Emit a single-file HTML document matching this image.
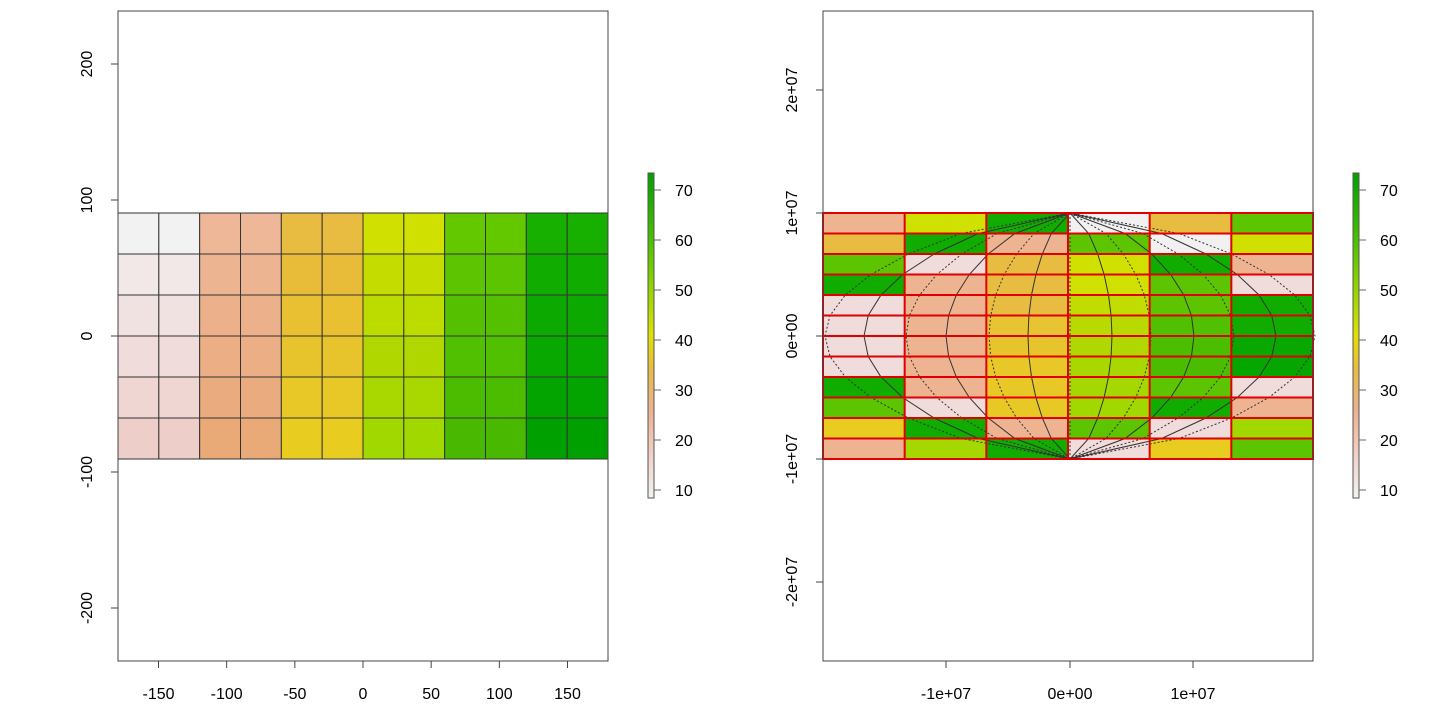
<!DOCTYPE html>
<html><head><meta charset="utf-8"><style>
html,body{margin:0;padding:0;background:#fff;}
svg{display:block;font-family:"Liberation Sans",Arial,sans-serif;}
</style></head><body>
<svg id="s" width="1433" height="716" xmlns="http://www.w3.org/2000/svg">
<defs>
<linearGradient id="cb" x1="0" y1="1" x2="0" y2="0">
<stop offset="0" stop-color="#f2f2f2"/>
<stop offset="0.12" stop-color="#f0d4cc"/>
<stop offset="0.27" stop-color="#eeb090"/>
<stop offset="0.4" stop-color="#e8bc40"/>
<stop offset="0.5" stop-color="#e0e000"/>
<stop offset="0.65" stop-color="#90d400"/>
<stop offset="0.82" stop-color="#40bc00"/>
<stop offset="1" stop-color="#00a000"/>
</linearGradient>
</defs>
<g id="g"></g>
</svg>
<script>
var g=document.getElementById('g'),h='';
function R(x,y,w,hh,f,s,sw){h+='<rect x="'+x+'" y="'+y+'" width="'+w+'" height="'+hh+'" fill="'+f+'" stroke="'+(s||'none')+'" stroke-width="'+(sw||1)+'"/>';}
function L(x1,y1,x2,y2,s,d,w){h+='<line x1="'+x1+'" y1="'+y1+'" x2="'+x2+'" y2="'+y2+'" stroke="'+(s||'#333')+'" stroke-width="'+(w||1)+'"'+(d?' stroke-dasharray="2,2"':'')+'/>';}
function T(x,y,t,rot,anc){h+='<text x="'+x+'" y="'+y+'" font-size="16" text-anchor="'+(anc||'middle')+'"'+(rot?' transform="rotate(-90 '+x+' '+y+')"':'')+'>'+t+'</text>';}
var pal=[
['#f2f2f2','#f2e8e8','#f0e2e0','#f0dcda','#f0d6d2','#eecec8'],
['#eeb898','#ecb490','#ecb08a','#ecae84','#eaac7e','#eaaa78'],
['#e8bc40','#e8bc38','#e8c032','#e8c42c','#e8c826','#e8cc20'],
['#d0e000','#c4dc00','#bcdc00','#b0d800','#a8d800','#a0d800'],
['#64c800','#5cc400','#54c000','#50c000','#4cbc00','#48b800'],
['#18b000','#10ac00','#0caa00','#08a800','#04a400','#00a000']];
var cw=490/12,rh=246/6;
for(var i=0;i<6;i++)for(var j=0;j<12;j++)R(118+j*cw,213+i*rh,cw,rh,pal[Math.floor(j/2)][i],'#333',1);
R(118,11,490,650,'none','#444',1);
[-150,-100,-50,0,50,100,150].forEach(function(v){var x=363+1.3633*v;L(x,661,x,668,'#444');T(x,699,v);});
[200,100,0,-100,-200].forEach(function(v){var y=336-1.36*v;L(111,y,118,y,'#444');T(92,y,v,1);});
function cbar(x){R(x,173,6,325,'url(#cb)','#555',1);
[10,20,30,40,50,60,70].forEach(function(v,k){var y=490-k*50;L(x+6,y,x+13,y,'#666');T(x+27,y+6,v,0,'start');});}
cbar(648);cbar(1353);
var P='#eeb492',YG='#d0e000',DG='#10ac00',W='#f2f0f0',O='#e8bc40',G='#5cc400',K='#f0dcda',Y='#e8cc20';
var rows=[[P,YG,DG,W,O,G],[O,DG,P,G,W,YG],[G,K,O,YG,DG,P],[DG,P,O,YG,G,K],[K,P,O,'#c0dc00',G,DG],[K,P,'#e8c432','#b8da00','#50c000',DG],[K,P,'#e8c42c','#b0d800','#4cbe00','#08a800'],[K,P,'#e8c828','#a8d800','#4cbc00','#06a600'],[DG,P,'#e8c826','#a4d800',G,K],[G,K,'#e8c824','#a0d800',DG,P],[Y,DG,P,G,K,'#a0d800'],[P,'#a4d800',DG,K,Y,G]];
var cw2=490/6,rh2=246/12;
for(var i=0;i<12;i++)for(var j=0;j<6;j++)R(823+j*cw2,213+i*rh2,cw2,rh2,rows[i][j]);
var dxs=[-245,-206,-164,-124,-81,-42,0,42,81,124,164,206,245];
dxs.forEach(function(dx,k){var pts=[];for(var a=0;a<=12;a++){var lat=90-a*15;var y=213+a*20.5;var x=1070+dx*Math.pow(Math.cos(lat*Math.PI/180),0.6);pts.push(x.toFixed(1)+','+y.toFixed(1));}
h+='<polyline points="'+pts.join(' ')+'" fill="none" stroke="#333" stroke-width="1"'+(k%2?'':' stroke-dasharray="2,2"')+'/>';});
for(var i=0;i<=12;i++)L(823,213+i*rh2,1313,213+i*rh2,'#e00000',0,2);
for(var j=0;j<=6;j++)L(823+j*cw2,213,823+j*cw2,459,'#e00000',0,2);
h+='<rect x="823" y="213" width="490" height="246" fill="none" stroke="#e00000" stroke-width="2"/>';
R(823,11,490,650,'none','#444',1);
[['-1e+07',946],['0e+00',1070],['1e+07',1193]].forEach(function(a){L(a[1],661,a[1],668,'#444');T(a[1],699,a[0]);});
[['2e+07',90],['1e+07',213],['0e+00',336],['-1e+07',459],['-2e+07',582]].forEach(function(a){L(816,a[1],823,a[1],'#444');T(797,a[1],a[0],1);});
g.innerHTML=h;
</script>
</body></html>
